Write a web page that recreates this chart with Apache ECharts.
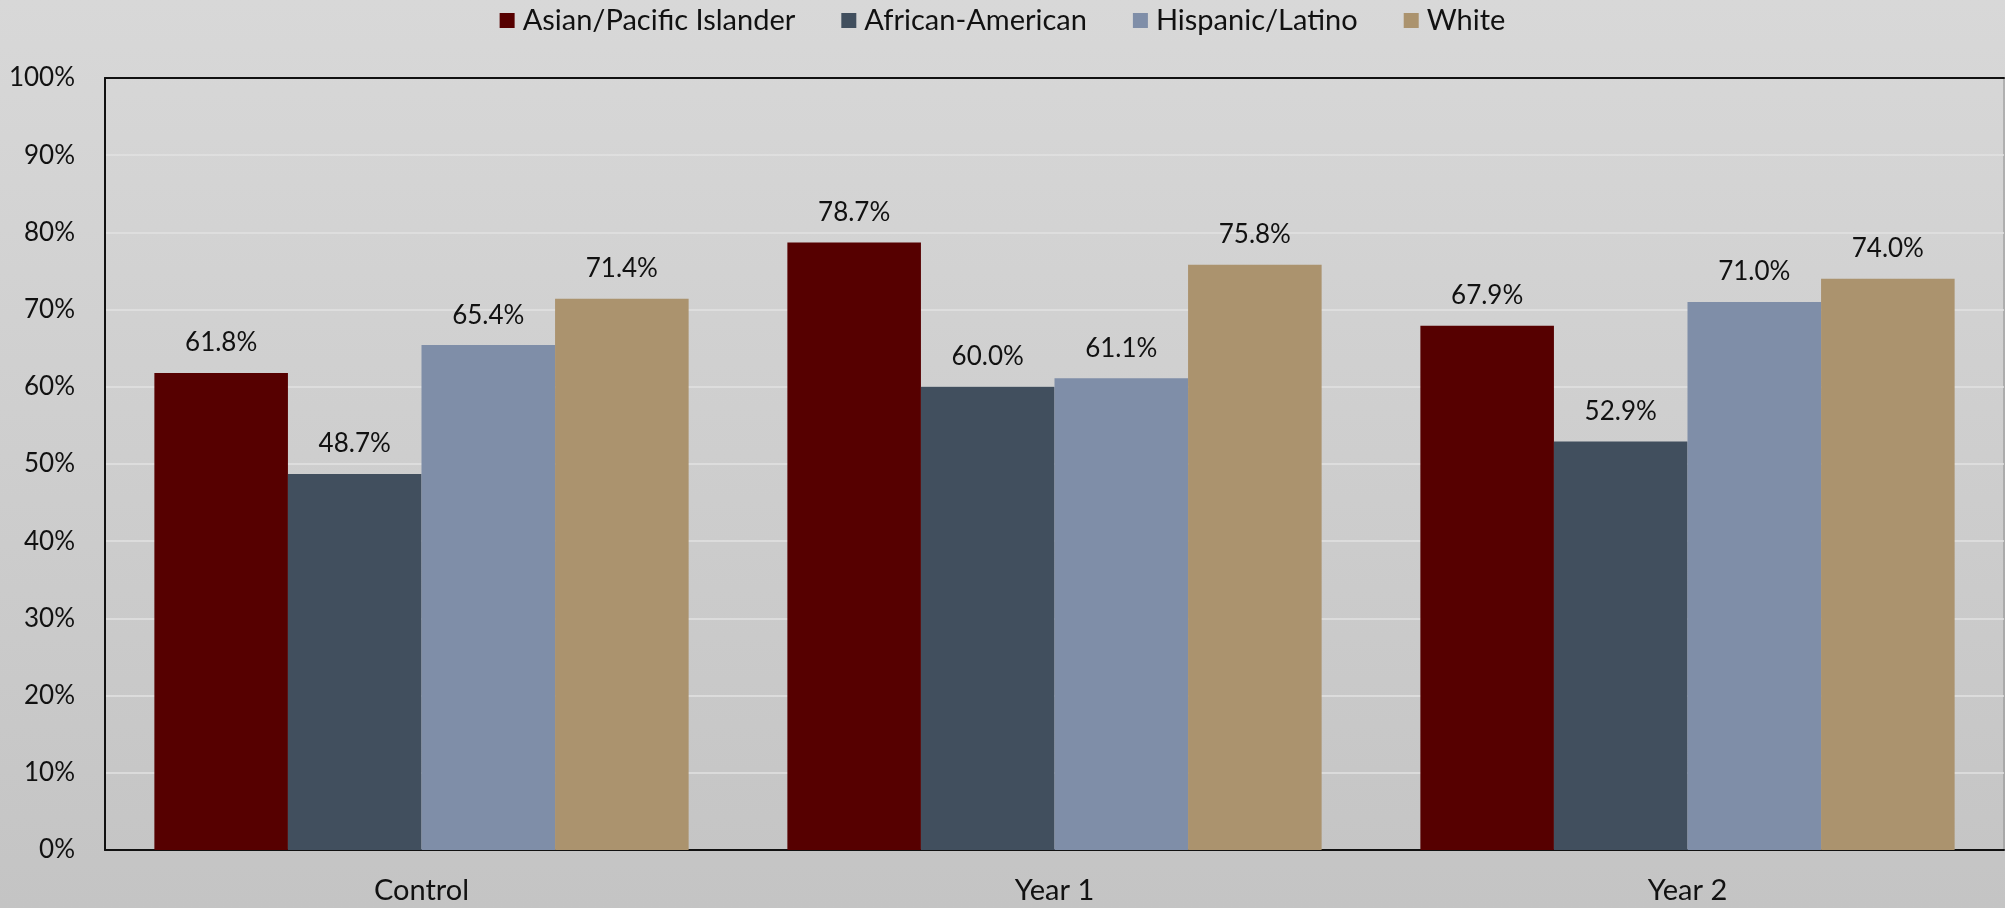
<!DOCTYPE html>
<html>
<head>
<meta charset="utf-8">
<script src="https://cdn.jsdelivr.net/npm/echarts@6/dist/echarts.min.js"></script>
<style>
  html, body { margin: 0; padding: 0; }
  body { background: linear-gradient(#d8d8d8, #c4c4c4); }
  #chart { width: 2005px; height: 908px; }
</style>
</head>
<body>
<div id="chart"></div>
<script>
// Categories and series values (percent)
const categories = ['Control', 'Year 1', 'Year 2'];
const seriesNames = ['Asian/Pacific Islander', 'African-American', 'Hispanic/Latino', 'White'];
const asianPacific = [61.8, 78.7, 67.9];
const africanAmerican = [48.7, 60.0, 52.9];
const hispanicLatino = [65.4, 61.1, 71.0];
const white = [71.4, 75.8, 74.0];
const colors = ['#560000', '#414f5e', '#7f8ea8', '#ab936e'];
const yTicks = [0, 10, 20, 30, 40, 50, 60, 70, 80, 90, 100];

const values = [asianPacific, africanAmerican, hispanicLatino, white];
const font = 'Lato, "Open Sans", sans-serif';

const chart = echarts.init(document.getElementById('chart'));
chart.setOption({
  backgroundColor: 'transparent',
  textStyle: { fontFamily: font },
  legend: {
    top: 1,
    left: 'center',
    itemWidth: 15,
    itemHeight: 15,
    itemGap: 46,
    icon: 'rect',
    textStyle: { fontSize: 29, color: '#111', fontFamily: font, padding: [0, 0, 0, 3] },
    data: seriesNames
  },
  grid: {
    left: 105, right: 1, top: 78, bottom: 58,
    show: true, borderColor: '#8a8a8a', borderWidth: 1
  },
  xAxis: [{
    type: 'category',
    data: categories,
    axisLine: { lineStyle: { color: '#111', width: 2 } },
    axisTick: { show: false },
    axisLabel: { fontSize: 29, color: '#111', margin: 26, fontFamily: font }
  }, {
    type: 'category',
    position: 'top',
    data: categories,
    axisLine: { show: true, lineStyle: { color: '#111', width: 2 } },
    axisTick: { show: false },
    axisLabel: { show: false }
  }],
  yAxis: {
    type: 'value',
    min: yTicks[0],
    max: yTicks[yTicks.length - 1],
    interval: 10,
    axisLine: { show: true, lineStyle: { color: '#111', width: 2 } },
    axisTick: { show: false },
    splitLine: { lineStyle: { color: '#e2e2e2', width: 1.5 } },
    axisLabel: {
      fontSize: 26, color: '#111', margin: 30, fontFamily: font,
      formatter: v => v + '%'
    }
  },
  series: seriesNames.map((name, i) => ({
    name,
    type: 'bar',
    data: values[i],
    barGap: '0%',
    barCategoryGap: '15.6%',
    itemStyle: { color: colors[i] },
    label: {
      show: true,
      position: 'top',
      distance: 17,
      fontSize: 26,
      color: '#111',
      fontFamily: font,
      formatter: p => p.value.toFixed(1) + '%'
    }
  }))
});
</script>
</body>
</html>
